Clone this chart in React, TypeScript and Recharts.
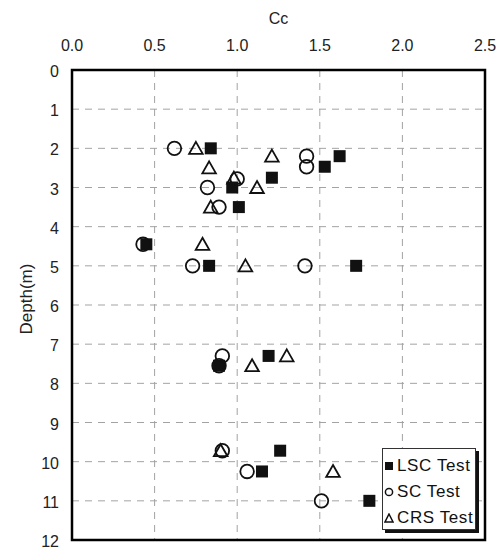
import React from "react";
import {
  ScatterChart,
  Scatter,
  XAxis,
  YAxis,
  CartesianGrid,
  ReferenceArea,
} from "recharts";

// Cc (compression index) vs depth for three consolidation test types
const LSC_CC = [0.84, 1.62, 1.53, 1.21, 0.97, 1.01, 0.45, 0.83, 1.72, 1.19, 0.89, 1.26, 1.15, 1.8];
const LSC_DEPTH = [2.0, 2.2, 2.47, 2.75, 3.0, 3.5, 4.45, 5.0, 5.0, 7.3, 7.55, 9.72, 10.25, 11.0];

const SC_CC = [0.62, 1.42, 1.42, 1.0, 0.82, 0.89, 0.43, 0.73, 1.41, 0.91, 0.89, 0.91, 1.06, 1.51];
const SC_DEPTH = [2.0, 2.2, 2.47, 2.78, 3.0, 3.5, 4.45, 5.0, 5.0, 7.3, 7.55, 9.72, 10.25, 11.0];

const CRS_CC = [0.75, 1.21, 0.83, 0.98, 1.12, 0.84, 0.79, 1.05, 1.3, 1.09, 0.9, 1.58];
const CRS_DEPTH = [2.0, 2.2, 2.5, 2.76, 3.0, 3.5, 4.45, 5.0, 7.3, 7.55, 9.72, 10.25];

const X_TICKS = [0, 0.5, 1.0, 1.5, 2.0, 2.5];
const Y_TICKS = [0, 1, 2, 3, 4, 5, 6, 7, 8, 9, 10, 11, 12];

const SERIES_NAMES = ["LSC Test", "SC Test", "CRS Test"];

const toPoints = (xs: number[], ys: number[]) => xs.map((cc, i) => ({ cc, depth: ys[i] }));

const lscData = toPoints(LSC_CC, LSC_DEPTH);
const scData = toPoints(SC_CC, SC_DEPTH);
const crsData = toPoints(CRS_CC, CRS_DEPTH);

const INK = "#111";
const FONT = "'Liberation Sans', Arial, sans-serif";

// eslint-disable-next-line @typescript-eslint/no-explicit-any
const SquareDot = (p: any) => (
  <rect x={p.cx - 6} y={p.cy - 6} width={12} height={12} fill={INK} />
);

// eslint-disable-next-line @typescript-eslint/no-explicit-any
const CircleDot = (p: any) => (
  <circle cx={p.cx} cy={p.cy} r={6.8} fill="none" stroke={INK} strokeWidth={1.8} />
);

// eslint-disable-next-line @typescript-eslint/no-explicit-any
const TriangleDot = (p: any) => (
  <polygon
    points={`${p.cx},${p.cy - 6.5} ${p.cx + 6.8},${p.cy + 5.5} ${p.cx - 6.8},${p.cy + 5.5}`}
    fill="none"
    stroke={INK}
    strokeWidth={1.8}
    strokeLinejoin="miter"
  />
);

// eslint-disable-next-line @typescript-eslint/no-explicit-any
const XTick = ({ x, y, payload }: any) => (
  <text x={x} y={y} textAnchor="middle" fontSize={16} fontFamily={FONT} fill="#222">
    {Number(payload.value).toFixed(1)}
  </text>
);

// eslint-disable-next-line @typescript-eslint/no-explicit-any
const YTick = ({ x, y, payload }: any) => (
  <text x={x} y={y + 7} textAnchor="end" fontSize={16} fontFamily={FONT} fill="#222">
    {payload.value}
  </text>
);

// eslint-disable-next-line @typescript-eslint/no-explicit-any
const DepthLabel = ({ viewBox }: any) => {
  const cx = viewBox.x + 28;
  const cy = viewBox.y + viewBox.height / 2 - 6;
  return (
    <text
      x={cx}
      y={cy}
      transform={`rotate(-90 ${cx} ${cy})`}
      textAnchor="middle"
      dominantBaseline="middle"
      fontSize={17}
      fontFamily={FONT}
      fill="#222"
    >
      Depth(m)
    </text>
  );
};

const legendMarkers = [
  <rect key="s" x={1} y={1} width={8} height={8} fill={INK} />,
  <circle key="c" cx={5} cy={5} r={3.6} fill="none" stroke={INK} strokeWidth={1.5} />,
  <polygon key="t" points="5,1 9,9 1,9" fill="none" stroke={INK} strokeWidth={1.5} />,
];

function Legend() {
  return (
    <div
      style={{
        position: "absolute",
        left: 382,
        top: 448,
        width: 94,
        height: 82,
        background: "#fff",
        border: "1px solid #333",
        boxShadow: "3px 3px 0 #111",
        fontFamily: FONT,
        fontSize: 17,
        letterSpacing: 0.6,
        color: "#111",
        boxSizing: "border-box",
        paddingTop: 4,
      }}
    >
      {SERIES_NAMES.map((name, i) => (
        <div
          key={name}
          style={{ display: "flex", alignItems: "center", height: 26, paddingLeft: 1 }}
        >
          <svg width={10} height={10} style={{ marginRight: 3 }}>
            {legendMarkers[i]}
          </svg>
          <span>{name}</span>
        </div>
      ))}
    </div>
  );
}

export default function App() {
  return (
    <div style={{ position: "absolute", left: 0, top: 0, width: 499, height: 551, background: "#fff" }}>
      <ScatterChart width={499} height={551} margin={{ top: 0, right: 14, bottom: 11, left: 0 }}>
        <CartesianGrid stroke="#a3a3a3" strokeDasharray="7 6" />
        <XAxis
          type="number"
          dataKey="cc"
          orientation="top"
          domain={[0, 2.5]}
          ticks={X_TICKS}
          height={70}
          tick={<XTick />}
          tickLine={false}
          axisLine={false}
          tickSize={6}
          tickMargin={13}
          interval={0}
          label={{
            value: "Cc",
            position: "insideTop",
            offset: 13,
            fontSize: 16,
            fontFamily: FONT,
            fill: "#222",
          }}
        />
        <YAxis
          type="number"
          dataKey="depth"
          reversed
          domain={[0, 12]}
          ticks={Y_TICKS}
          width={72}
          tick={<YTick />}
          tickLine={false}
          axisLine={false}
          tickSize={6}
          tickMargin={7}
          interval={0}
          label={<DepthLabel />}
        />
        <ReferenceArea
          x1={0}
          x2={2.5}
          y1={0}
          y2={12}
          fill="none"
          fillOpacity={0}
          stroke="#000"
          strokeWidth={2.5}
          ifOverflow="visible"
        />
        <Scatter name="LSC Test" data={lscData} shape={SquareDot} isAnimationActive={false} />
        <Scatter name="SC Test" data={scData} shape={CircleDot} isAnimationActive={false} />
        <Scatter name="CRS Test" data={crsData} shape={TriangleDot} isAnimationActive={false} />
      </ScatterChart>
      <Legend />
    </div>
  );
}
